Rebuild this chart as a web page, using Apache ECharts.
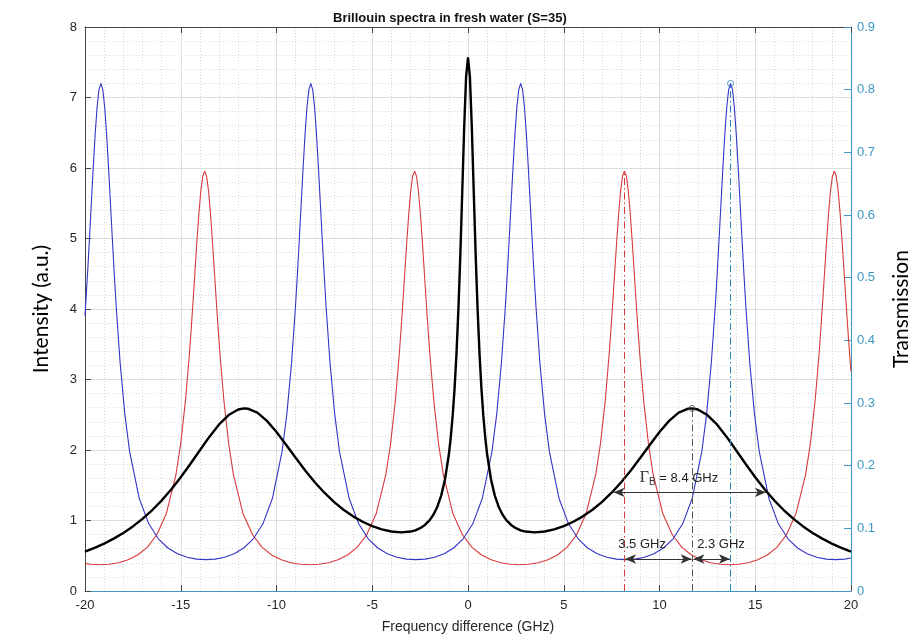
<!DOCTYPE html>
<html>
<head>
<meta charset="utf-8">
<script src="https://cdn.jsdelivr.net/npm/echarts@6/dist/echarts.min.js"></script>
<style>html,body{margin:0;padding:0;background:#fff}#chart{width:920px;height:636px}</style>
</head>
<body>
<div id="chart"></div>
<script>
// ---- Data ----
const chartTitle = 'Brillouin spectra in fresh water (S=35)';
const xTickValues = [-20, -15, -10, -5, 0, 5, 10, 15, 20];

// Brillouin spectrum (black, left axis, intensity a.u.)
const blackFreq = [-20,-19.5,-19,-18.5,-18,-17.5,-17,-16.5,-16,-15.5,-15,-14.5,-14,-13.5,-13,-12.5,-12,-11.7,-11.5,-11,-10.5,-10,-9.5,-9,-8.5,-8,-7.5,-7,-6.5,-6,-5.5,-5,-4.5,-4,-3.5,-3,-2.75,-2.5,-2.25,-2,-1.8,-1.6,-1.4,-1.2,-1,-0.9,-0.8,-0.7,-0.6,-0.5,-0.4,-0.3,-0.2,-0.1,
  0,
  0.1,0.2,0.3,0.4,0.5,0.6,0.7,0.8,0.9,1,1.2,1.4,1.6,1.8,2,2.25,2.5,2.75,3,3.5,4,4.5,5,5.5,6,6.5,7,7.5,8,8.5,9,9.5,10,10.5,11,11.5,11.7,12,12.5,13,13.5,14,14.5,15,15.5,16,16.5,17,17.5,18,18.5,19,19.5,20];
const blackIntensity = [0.557,0.611,0.672,0.743,0.823,0.916,1.023,1.145,1.283,1.440,1.614,1.801,1.997,2.189,2.362,2.496,2.575,2.590,2.586,2.529,2.413,2.255,2.075,1.889,1.709,1.542,1.394,1.264,1.153,1.059,0.982,0.921,0.874,0.844,0.831,0.843,0.861,0.891,0.937,1.006,1.085,1.196,1.353,1.585,1.936,2.179,2.487,2.877,3.375,4.002,4.773,5.663,6.571,7.291,
  7.571,
  7.291,6.571,5.663,4.773,4.002,3.375,2.877,2.487,2.179,1.936,1.585,1.353,1.196,1.085,1.006,0.937,0.891,0.861,0.843,0.831,0.844,0.874,0.921,0.982,1.059,1.153,1.264,1.394,1.542,1.709,1.889,2.075,2.255,2.413,2.529,2.586,2.590,2.575,2.496,2.362,2.189,1.997,1.801,1.614,1.440,1.283,1.145,1.023,0.916,0.823,0.743,0.672,0.611,0.557];

// Filter transmission (blue, right axis)
const blueTransmission = [
  [-20,0.4392],[-19.87,0.5051],[-19.77,0.5605],[-19.67,0.6183],[-19.57,0.6756],[-19.47,0.7283],[-19.37,0.7715],[-19.27,0.8000],[-19.17,0.8100],
  [-19.07,0.8000],[-18.97,0.7715],[-18.87,0.7283],[-18.77,0.6756],[-18.67,0.6183],[-18.57,0.5605],[-18.47,0.5051],[-18.37,0.4537],[-18.17,0.3657],
  [-17.92,0.2823],[-17.67,0.2224],[-17.17,0.1481],[-16.67,0.1072],[-16.17,0.0833],[-15.67,0.0686],[-15.17,0.0595],[-14.67,0.0539],[-14.17,0.0509],
  [-13.69,0.0500],[-13.21,0.0509],[-12.71,0.0539],[-12.21,0.0595],[-11.71,0.0686],[-11.21,0.0833],[-10.71,0.1072],[-10.21,0.1481],[-9.71,0.2224],
  [-9.46,0.2823],[-9.21,0.3657],[-9.01,0.4537],[-8.91,0.5051],[-8.81,0.5605],[-8.71,0.6183],[-8.61,0.6756],[-8.51,0.7283],[-8.41,0.7715],[-8.31,0.8000],
  [-8.21,0.8100],[-8.11,0.8000],[-8.01,0.7715],[-7.91,0.7283],[-7.81,0.6756],[-7.71,0.6183],[-7.61,0.5605],[-7.51,0.5051],[-7.41,0.4537],[-7.21,0.3657],
  [-6.96,0.2823],[-6.71,0.2224],[-6.21,0.1481],[-5.71,0.1072],[-5.21,0.0833],[-4.71,0.0686],[-4.21,0.0595],[-3.71,0.0539],[-3.21,0.0509],[-2.73,0.0500],
  [-2.25,0.0509],[-1.75,0.0539],[-1.25,0.0595],[-0.75,0.0686],[-0.25,0.0833],[0.25,0.1072],[0.75,0.1481],[1.25,0.2224],[1.5,0.2823],[1.75,0.3657],
  [1.95,0.4537],[2.05,0.5051],[2.15,0.5605],[2.25,0.6183],[2.35,0.6756],[2.45,0.7283],[2.55,0.7715],[2.65,0.8000],[2.75,0.8100],[2.85,0.8000],
  [2.95,0.7715],[3.05,0.7283],[3.15,0.6756],[3.25,0.6183],[3.35,0.5605],[3.45,0.5051],[3.55,0.4537],[3.75,0.3657],[4.0,0.2823],[4.25,0.2224],
  [4.75,0.1481],[5.25,0.1072],[5.75,0.0833],[6.25,0.0686],[6.75,0.0595],[7.25,0.0539],[7.75,0.0509],[8.23,0.0500],[8.71,0.0509],[9.21,0.0539],
  [9.71,0.0595],[10.21,0.0686],[10.71,0.0833],[11.21,0.1072],[11.71,0.1481],[12.21,0.2224],[12.46,0.2823],[12.71,0.3657],[12.91,0.4537],[13.01,0.5051],
  [13.11,0.5605],[13.21,0.6183],[13.31,0.6756],[13.41,0.7283],[13.51,0.7715],[13.61,0.8000],[13.71,0.8100],[13.81,0.8000],[13.91,0.7715],[14.01,0.7283],
  [14.11,0.6756],[14.21,0.6183],[14.31,0.5605],[14.41,0.5051],[14.51,0.4537],[14.71,0.3657],[14.96,0.2823],[15.21,0.2224],[15.71,0.1481],[16.21,0.1072],
  [16.71,0.0833],[17.21,0.0686],[17.71,0.0595],[18.21,0.0539],[18.71,0.0509],[19.19,0.0500],[19.67,0.0509],[20,0.0527]
];

// Filter transmission (red, right axis)
const redTransmission = [
  [-20,0.0441],[-19.71,0.0426],[-19.23,0.0419],[-18.75,0.0426],[-18.25,0.0451],[-17.75,0.0498],[-17.25,0.0574],[-16.75,0.0697],[-16.25,0.0897],
  [-15.75,0.1238],[-15.25,0.1858],[-15.0,0.2355],[-14.75,0.3047],[-14.55,0.3775],[-14.45,0.4199],[-14.35,0.4655],[-14.25,0.5130],[-14.15,0.5600],
  [-14.05,0.6033],[-13.95,0.6386],[-13.85,0.6618],[-13.75,0.6700],[-13.65,0.6618],[-13.55,0.6386],[-13.45,0.6033],[-13.35,0.5600],[-13.25,0.5130],
  [-13.15,0.4655],[-13.05,0.4199],[-12.95,0.3775],[-12.75,0.3047],[-12.5,0.2355],[-12.25,0.1858],[-11.75,0.1238],[-11.25,0.0897],[-10.75,0.0697],
  [-10.25,0.0574],[-9.75,0.0498],[-9.25,0.0451],[-8.75,0.0426],[-8.27,0.0419],[-7.79,0.0426],[-7.29,0.0451],[-6.79,0.0498],[-6.29,0.0574],
  [-5.79,0.0697],[-5.29,0.0897],[-4.79,0.1238],[-4.29,0.1858],[-4.04,0.2355],[-3.79,0.3047],[-3.59,0.3775],[-3.49,0.4199],[-3.39,0.4655],
  [-3.29,0.5130],[-3.19,0.5600],[-3.09,0.6033],[-2.99,0.6386],[-2.89,0.6618],[-2.79,0.6700],[-2.69,0.6618],[-2.59,0.6386],[-2.49,0.6033],
  [-2.39,0.5600],[-2.29,0.5130],[-2.19,0.4655],[-2.09,0.4199],[-1.99,0.3775],[-1.79,0.3047],[-1.54,0.2355],[-1.29,0.1858],[-0.79,0.1238],
  [-0.29,0.0897],[0.21,0.0697],[0.71,0.0574],[1.21,0.0498],[1.71,0.0451],[2.21,0.0426],[2.69,0.0419],[3.17,0.0426],[3.67,0.0451],[4.17,0.0498],
  [4.67,0.0574],[5.17,0.0697],[5.67,0.0897],[6.17,0.1238],[6.67,0.1858],[6.92,0.2355],[7.17,0.3047],[7.37,0.3775],[7.47,0.4199],[7.57,0.4655],
  [7.67,0.5130],[7.77,0.5600],[7.87,0.6033],[7.97,0.6386],[8.07,0.6618],[8.17,0.6700],[8.27,0.6618],[8.37,0.6386],[8.47,0.6033],[8.57,0.5600],
  [8.67,0.5130],[8.77,0.4655],[8.87,0.4199],[8.97,0.3775],[9.17,0.3047],[9.42,0.2355],[9.67,0.1858],[10.17,0.1238],[10.67,0.0897],[11.17,0.0697],
  [11.67,0.0574],[12.17,0.0498],[12.67,0.0451],[13.17,0.0426],[13.65,0.0419],[14.13,0.0426],[14.63,0.0451],[15.13,0.0498],[15.63,0.0574],
  [16.13,0.0697],[16.63,0.0897],[17.13,0.1238],[17.63,0.1858],[17.88,0.2355],[18.13,0.3047],[18.33,0.3775],[18.43,0.4199],[18.53,0.4655],
  [18.63,0.5130],[18.73,0.5600],[18.83,0.6033],[18.93,0.6386],[19.03,0.6618],[19.13,0.6700],[19.23,0.6618],[19.33,0.6386],[19.43,0.6033],
  [19.53,0.5600],[19.63,0.5130],[19.73,0.4655],[19.83,0.4199],[19.93,0.3775],[20,0.3501]
];

// Annotations
const redPeak = [8.17, 0.67];          // right axis
const bluePeak = [13.71, 0.81];        // right axis
const brillouinPeak = [11.7, 2.59];    // left axis
const widthArrow = { from: 7.6, to: 15.56, level: 1.40, text: ' = 8.4 GHz', textAt: [11.02, 1.60] };
const shiftArrowLeft = { from: 8.2, to: 11.68, level: 0.454, text: '3.5 GHz', textAt: [9.09, 0.667] };
const shiftArrowRight = { from: 11.77, to: 13.68, level: 0.454, text: '2.3 GHz', textAt: [13.21, 0.667] };

// ---- Chart ----
const TEAL = '#3d98c4';
const DARK = '#262626';
const AX = '#444444';
const FONT = 'Liberation Sans, Arial, sans-serif';

const blackData = blackFreq.map((f, i) => [f, blackIntensity[i]]);

function vline(x, y, color) {
  return [
    { coord: [x, 0], symbol: 'none', lineStyle: { color: color, width: 1, type: [7, 3, 1.5, 3] } },
    { coord: [x, y], symbol: 'none' }
  ];
}
function arrow(a) {
  return [
    { coord: [a.from, a.level], symbol: 'arrow', symbolSize: [7, 11], lineStyle: { color: '#333', width: 1, type: 'solid' } },
    { coord: [a.to, a.level], symbol: 'arrow', symbolSize: [7, 11] }
  ];
}
function ring(pos, color) {
  return { coord: pos, symbol: 'circle', symbolSize: 6,
    itemStyle: { color: 'rgba(255,255,255,0)', borderColor: color, borderWidth: 0.8 }, label: { show: false } };
}
function textPoint(pos, formatter) {
  return {
    coord: pos, symbol: 'circle', symbolSize: 1, itemStyle: { color: 'rgba(0,0,0,0)' },
    label: {
      show: true, position: 'inside', formatter: formatter, color: '#222', fontSize: 13, fontFamily: FONT,
      rich: {
        g: { fontSize: 16, fontFamily: 'Liberation Serif, serif', color: '#333' },
        s: { fontSize: 10, fontFamily: FONT, color: '#333', padding: [9, 0, 0, 0] },
        t: { fontSize: 13, fontFamily: FONT, color: '#222' }
      }
    }
  };
}

const chart = echarts.init(document.getElementById('chart'), null, { renderer: 'canvas' });
chart.setOption({
  animation: false,
  backgroundColor: '#ffffff',
  title: {
    text: chartTitle, left: 328, top: 7,
    textStyle: { fontFamily: FONT, fontSize: 13, fontWeight: 'bold', color: '#111' }
  },
  grid: { left: 85, top: 27, width: 766, height: 564, containLabel: false, outerBoundsMode: 'none' },
  xAxis: [
    {
      type: 'value', min: -20, max: 20, interval: 5, position: 'bottom',
      name: 'Frequency difference (GHz)', nameLocation: 'middle', nameGap: 29,
      nameTextStyle: { fontFamily: FONT, fontSize: 14, color: DARK },
      axisLine: { show: true, onZero: false, lineStyle: { color: TEAL, width: 1 } },
      axisTick: { show: true, inside: true, length: 6, lineStyle: { color: AX } },
      axisLabel: { color: DARK, fontSize: 13, fontFamily: FONT, margin: 8,
        customValues: xTickValues },
      splitLine: { show: true, lineStyle: { color: '#dddddd', width: 1 } },
      minorTick: { show: false, splitNumber: 5 },
      minorSplitLine: { show: true, lineStyle: { color: '#d9d9d9', width: 1, type: [1, 2] } }
    },
    {
      type: 'value', min: -20, max: 20, interval: 5, position: 'top',
      axisLine: { show: true, onZero: false, lineStyle: { color: AX, width: 1 } },
      axisTick: { show: true, inside: true, length: 6, lineStyle: { color: AX } },
      axisLabel: { show: false }, splitLine: { show: false }
    }
  ],
  yAxis: [
    {
      type: 'value', min: 0, max: 8, interval: 1, position: 'left',
      name: 'Intensity (a.u.)', nameLocation: 'middle', nameGap: 33, nameRotate: 90,
      nameTextStyle: { fontFamily: 'Lato, Open Sans, sans-serif', fontSize: 21, color: '#000' },
      axisLine: { show: true, onZero: false, lineStyle: { color: AX, width: 1 } },
      axisTick: { show: true, inside: true, length: 6, lineStyle: { color: AX } },
      axisLabel: { color: DARK, fontSize: 13, fontFamily: FONT, margin: 8 },
      splitLine: { show: true, lineStyle: { color: '#dddddd', width: 1 } },
      minorTick: { show: false, splitNumber: 5 },
      minorSplitLine: { show: true, lineStyle: { color: '#d9d9d9', width: 1, type: [1, 2] } }
    },
    {
      type: 'value', min: 0, max: 0.9, interval: 0.1, position: 'right',
      name: 'Transmission', nameLocation: 'middle', nameGap: 40, nameRotate: 90,
      nameTextStyle: { fontFamily: 'Lato, Open Sans, sans-serif', fontSize: 21, color: '#000' },
      axisLine: { show: true, onZero: false, lineStyle: { color: TEAL, width: 1 } },
      axisTick: { show: true, inside: true, length: 7, lineStyle: { color: TEAL } },
      axisLabel: { color: TEAL, fontSize: 13, fontFamily: FONT, margin: 6 },
      splitLine: { show: false }
    }
  ],
  series: [
    {
      name: 'red', type: 'line', xAxisIndex: 0, yAxisIndex: 1, data: redTransmission,
      showSymbol: false, symbol: 'none', smooth: false,
      lineStyle: { color: '#d8393b', width: 1.1 }, z: 3,
      markLine: { silent: true, animation: false, label: { show: false }, data: [vline(redPeak[0], redPeak[1], '#d8393b')] }
    },
    {
      name: 'blue', type: 'line', xAxisIndex: 0, yAxisIndex: 1, data: blueTransmission,
      showSymbol: false, symbol: 'none', smooth: false,
      lineStyle: { color: '#3434c6', width: 1.1 }, z: 3,
      markLine: { silent: true, animation: false, label: { show: false }, data: [vline(bluePeak[0], bluePeak[1], '#2a86b8')] },
      markPoint: { silent: true, animation: false, data: [ ring(bluePeak, '#2a86b8') ] }
    },
    {
      name: 'black', type: 'line', xAxisIndex: 0, yAxisIndex: 0, data: blackData,
      showSymbol: false, symbol: 'none', smooth: false,
      lineStyle: { color: '#000', width: 2.4 }, z: 4,
      markLine: { silent: true, animation: false, label: { show: false }, data: [
        vline(brillouinPeak[0], brillouinPeak[1], '#555'),
        arrow(widthArrow), arrow(shiftArrowLeft), arrow(shiftArrowRight)
      ] },
      markPoint: { silent: true, animation: false, data: [
        ring(brillouinPeak, '#555'),
        textPoint(widthArrow.textAt, '{g|Γ}{s|B}{t|' + widthArrow.text + '}'),
        textPoint(shiftArrowLeft.textAt, shiftArrowLeft.text),
        textPoint(shiftArrowRight.textAt, shiftArrowRight.text)
      ] }
    }
  ]
});
</script>
</body>
</html>
